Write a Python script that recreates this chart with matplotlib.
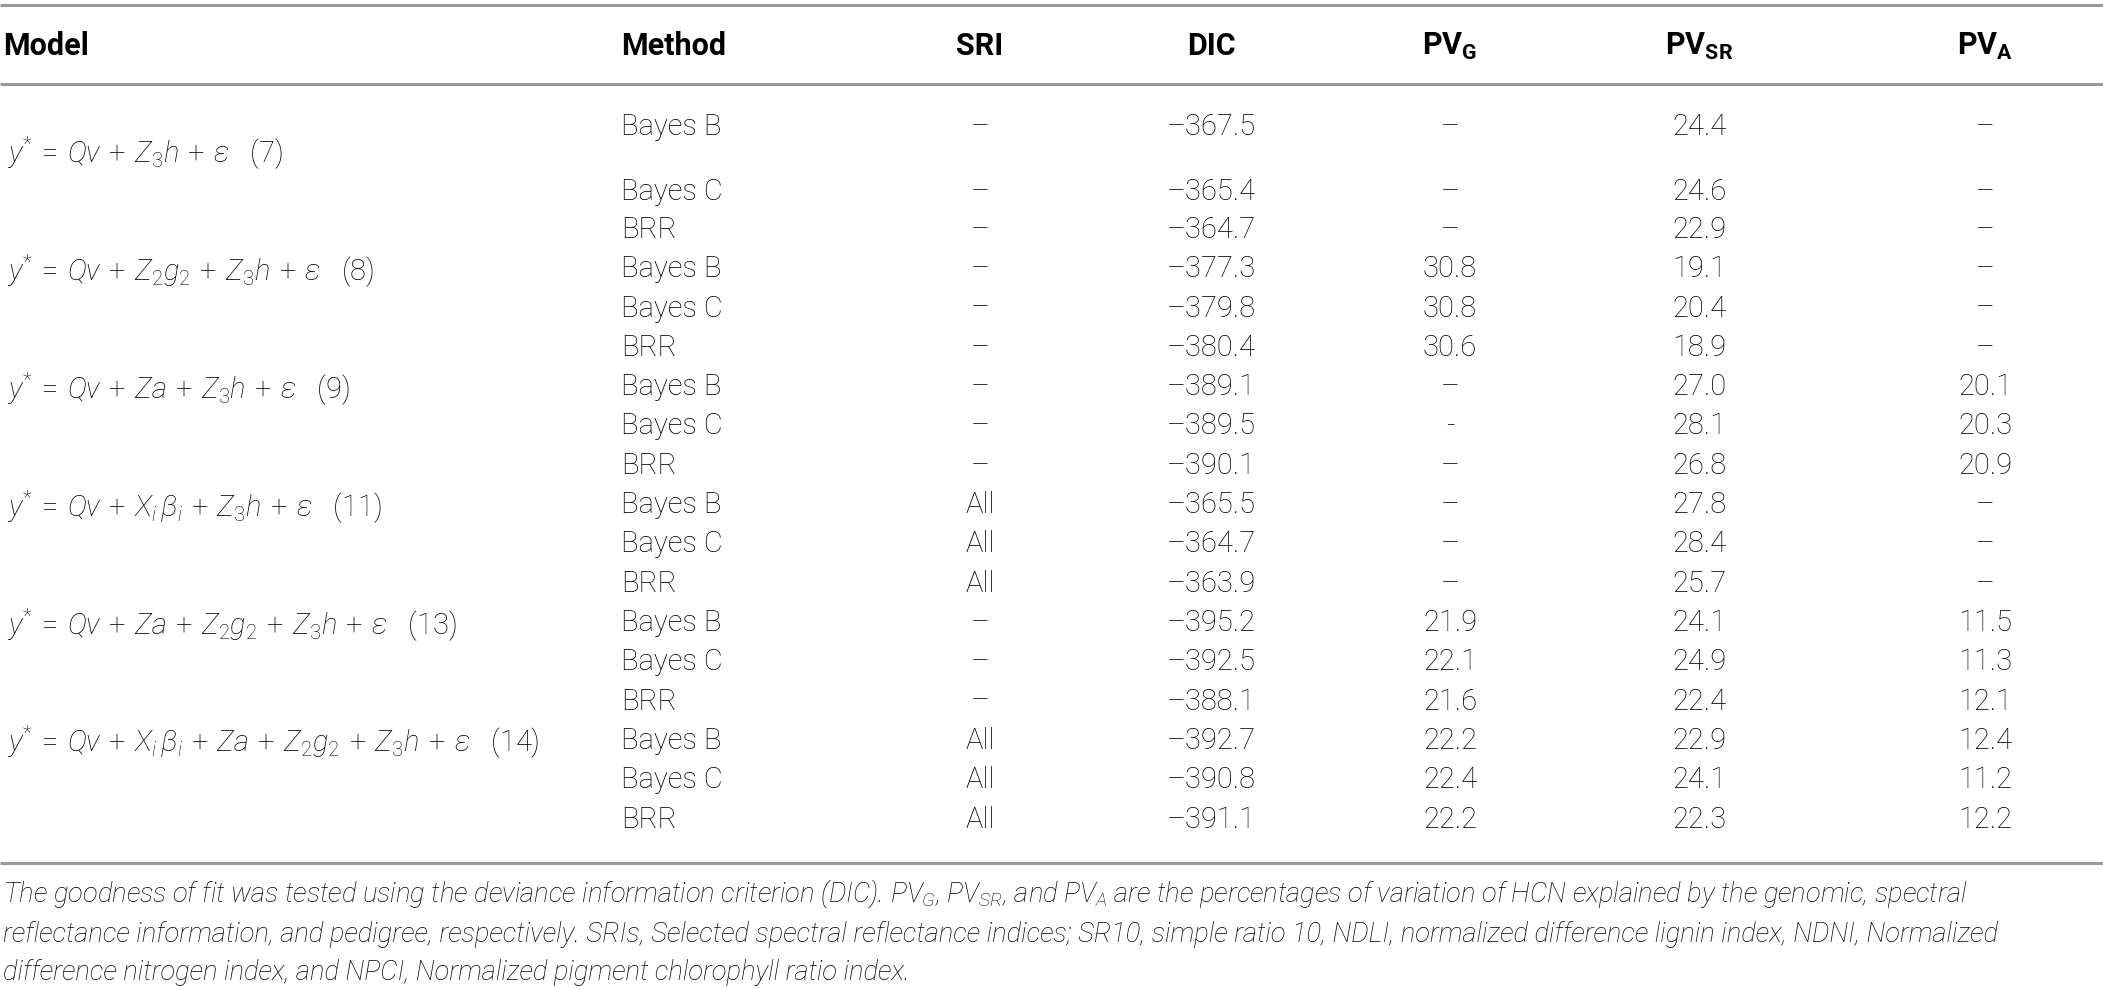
import matplotlib
matplotlib.use("Agg")
import matplotlib.pyplot as plt

# --- table contents ---
col_headers = ["Model", "Method", "SRI", "DIC", r"$\mathbf{PV}_{\mathbf{G}}$",
               r"$\mathbf{PV}_{\mathbf{SR}}$", r"$\mathbf{PV}_{\mathbf{A}}$"]

models = [r"$y^{*}\,=\,Qv\,+\,Z_{3}h\,+\,\varepsilon$   (7)",
          r"$y^{*}\,=\,Qv\,+\,Z_{2}g_{2}\,+\,Z_{3}h\,+\,\varepsilon$   (8)",
          r"$y^{*}\,=\,Qv\,+\,Za\,+\,Z_{3}h\,+\,\varepsilon$   (9)",
          r"$y^{*}\,=\,Qv\,+\,X_{i}\,\beta_{i}\,+\,Z_{3}h\,+\,\varepsilon$   (11)",
          r"$y^{*}\,=\,Qv\,+\,Za\,+\,Z_{2}g_{2}\,+\,Z_{3}h\,+\,\varepsilon$   (13)",
          r"$y^{*}\,=\,Qv\,+\,X_{i}\,\beta_{i}\,+\,Za\,+\,Z_{2}g_{2}\,+\,Z_{3}h\,+\,\varepsilon$   (14)"]

methods = ["Bayes B", "Bayes C", "BRR"] * 6
sri = ["–"] * 9 + ["All"] * 3 + ["–"] * 3 + ["All"] * 3
dic = [-367.5, -365.4, -364.7, -377.3, -379.8, -380.4, -389.1, -389.5, -390.1,
       -365.5, -364.7, -363.9, -395.2, -392.5, -388.1, -392.7, -390.8, -391.1]
pv_g = ["–", "–", "–", 30.8, 30.8, 30.6, "–", "-", "–",
        "–", "–", "–", 21.9, 22.1, 21.6, 22.2, 22.4, 22.2]
pv_sr = [24.4, 24.6, 22.9, 19.1, 20.4, 18.9, 27.0, 28.1, 26.8,
         27.8, 28.4, 25.7, 24.1, 24.9, 22.4, 22.9, 24.1, 22.3]
pv_a = ["–"] * 6 + [20.1, 20.3, 20.9] + ["–"] * 3 + [11.5, 11.3, 12.1, 12.4, 11.2, 12.2]

footnote = [
    "The goodness of fit was tested using the deviance information criterion (DIC). "
    r"$PV_{G}$, $PV_{SR}$, and $PV_{A}$ are the percentages of variation of HCN explained by the genomic, spectral",
    "reflectance information, and pedigree, respectively. SRIs, Selected spectral reflectance indices; "
    "SR10, simple ratio 10, NDLI, normalized difference lignin index, NDNI, Normalized",
    "difference nitrogen index, and NPCI, Normalized pigment chlorophyll ratio index.",
]

# --- layout (pixels) ---
W, H = 2103, 989
col_x = [3, 621, 980, 1211, 1450, 1699, 1985]
header_y = 46
row_y = [127, 192] + [230 + 39.3 * k for k in range(16)]
model_y = [153, row_y[3] + 2, row_y[6] + 2, row_y[9] + 2, row_y[12] + 2, row_y[15] + 2]
foot_y = [894, 935, 972]
line_color = "#9a9a9a"

plt.rcParams["font.family"] = ["Roboto", "DejaVu Sans"]
plt.rcParams["mathtext.fontset"] = "custom"
plt.rcParams["mathtext.rm"] = "Roboto:light"
plt.rcParams["mathtext.it"] = "Roboto:italic:light"
plt.rcParams["mathtext.bf"] = "Roboto:bold"

fig = plt.figure(figsize=(W / 100, H / 100), dpi=100)
ax = fig.add_axes([0, 0, 1, 1])
ax.set_xlim(0, W)
ax.set_ylim(H, 0)
ax.axis("off")

fs = 21
txt = "black"

for yl in (4.5, 84, 863):
    ax.plot([0, W], [yl, yl], color=line_color, lw=2.2, solid_capstyle="butt")

for i, h in enumerate(col_headers):
    ha = "left" if i < 2 else "center"
    ax.text(col_x[i], header_y, h, ha=ha, va="center", fontsize=22,
            fontweight="bold", color="black")

for y, m in zip(model_y, models):
    ax.text(col_x[0] + 4, y, m, ha="left", va="center", fontsize=21,
            fontweight="light", color=txt)


def fmt(v):
    if isinstance(v, str):
        return v
    return f"{v:.1f}".replace("-", "–")


for r, y in enumerate(row_y):
    ax.text(col_x[1], y, methods[r], ha="left", va="center", fontsize=fs,
            fontweight="light", color=txt)
    for c, col in zip(range(2, 7), (sri, dic, pv_g, pv_sr, pv_a)):
        ax.text(col_x[c], y, fmt(col[r]), ha="center", va="center",
                fontsize=fs, fontweight="light", color=txt)

for y, line in zip(foot_y, footnote):
    ax.text(col_x[0], y, line, ha="left", va="center", fontsize=19.7,
            style="italic", fontweight="light", color=txt)

fig.savefig("out.png", dpi=100)
